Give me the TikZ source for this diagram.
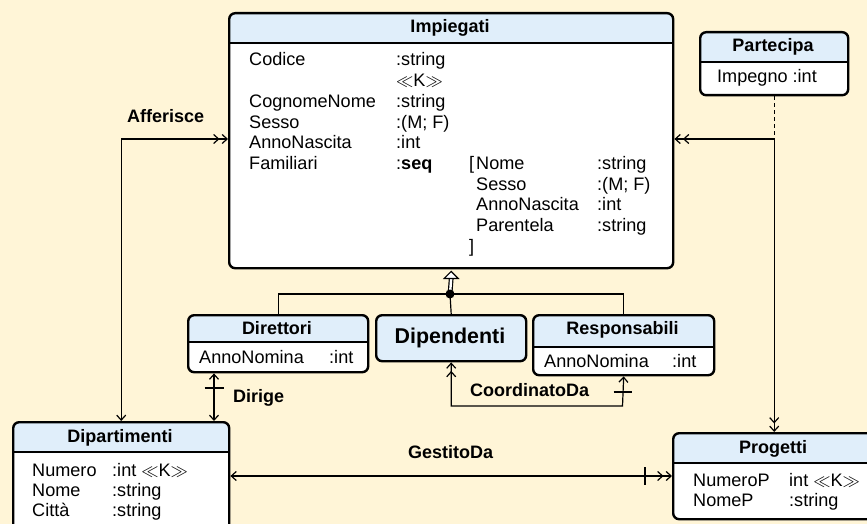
\documentclass[tikz,border=0pt]{standalone}
\usepackage{fontspec}
\setmainfont{Liberation Sans}
\usetikzlibrary{arrows.meta}
\definecolor{bg}{RGB}{255,245,215}
\definecolor{hdr}{RGB}{224,238,250}
\tikzset{
  sb/.tip={Straight Barb[length=5pt,width=9pt]},
  db/.tip={Straight Barb[length=5pt,width=9pt,sep=2pt]Straight Barb[length=5pt,width=9pt]},
  box/.style={draw, line width=2.4pt, rounded corners=6pt, fill=white, inner sep=0pt, anchor=north west},
  hd/.style={path picture={\fill[hdr] (path picture bounding box.north west) rectangle ([yshift=-#1pt]path picture bounding box.north east);}},
  sepline/.style={line width=2.4pt},
  conn/.style={line width=1.2pt, line join=miter},
  txt/.style={anchor=base west, inner sep=0pt, font=\fontsize{18.1}{20}\selectfont},
  ttl/.style={anchor=base, inner sep=0pt, font=\bfseries\fontsize{18}{20}\selectfont},
  lbl/.style={anchor=base west, inner sep=0pt, font=\bfseries\fontsize{18}{20}\selectfont},
  dot/.style={circle, fill=black, inner sep=0pt, minimum size=9pt},
}
\begin{document}
\begin{tikzpicture}[x=1pt,y=-1pt]
\useasboundingbox (0,0) rectangle (867,524);
\fill[bg] (0,0) rectangle (867,524);
\clip (0,0) rectangle (867,524);

% boxes
\node[box, hd=31, minimum width=444pt, minimum height=255pt] (imp) at (228,12) {};
\node[box, hd=31, minimum width=148pt, minimum height=63pt] (part) at (699,31) {};
\node[box, hd=28, minimum width=180pt, minimum height=57pt] (dir) at (187,314) {};
\node[box, fill=hdr, minimum width=150pt, minimum height=46pt] (dip) at (375,314) {};
\node[box, hd=33, minimum width=181pt, minimum height=60pt] (resp) at (532,314) {};
\node[box, hd=31, minimum width=216pt, minimum height=120pt] (dipart) at (12,421) {};
\node[box, hd=31, minimum width=202pt, minimum height=86pt] (prog) at (672,432) {};

% header separators
\draw[sepline] ([yshift=-31pt]imp.north west) -- ([yshift=-31pt]imp.north east);
\draw[sepline] ([yshift=-31pt]part.north west) -- ([yshift=-31pt]part.north east);
\draw[sepline] ([yshift=-28pt]dir.north west) -- ([yshift=-28pt]dir.north east);
\draw[sepline] ([yshift=-33pt]resp.north west) -- ([yshift=-33pt]resp.north east);
\draw[sepline] ([yshift=-31pt]dipart.north west) -- ([yshift=-31pt]dipart.north east);
\draw[sepline] ([yshift=-31pt]prog.north west) -- ([yshift=-31pt]prog.north east);

% titles
\node[ttl] (timp) at (450,33) {Impiegati};
\node[ttl] (tpart) at (773,52) {Partecipa};
\node[ttl] (tdir) at (277,334) {Direttori};
\node[ttl, font=\bfseries\fontsize{21.4}{24}\selectfont] (tdip) at (450,343) {Dipendenti};
\node[ttl] (tresp) at (622.5,334) {Responsabili};
\node[ttl] (tdipart) at (120,442) {Dipartimenti};
\node[ttl] (tprog) at (773,453) {Progetti};

% Impiegati attributes
\foreach \k/\t in {0/Codice, 2/CognomeNome, 3/Sesso, 4/AnnoNascita, 5/Familiari}
  \node[txt] (ia\k) at (249, 66+20.7*\k) {\t};
\foreach \k/\t in {0/{:string}, 1/{$\ll$K$\gg$}, 2/{:string}, 3/{:(M; F)}, 4/{:int}, 5/{:\textbf{seq}}}
  \node[txt] (ib\k) at (396, 66+20.7*\k) {\t};
\foreach \k/\t in {5/{[}, 9/{]}}
  \node[txt] (ic\k) at (469, 66+20.7*\k) {\t};
\foreach \k/\t in {5/Nome, 6/Sesso, 7/AnnoNascita, 8/Parentela}
  \node[txt] (id\k) at (476, 66+20.7*\k) {\t};
\foreach \k/\t in {5/{:string}, 6/{:(M; F)}, 7/{:int}, 8/{:string}}
  \node[txt] (ie\k) at (597, 66+20.7*\k) {\t};

% other attributes
\node[txt] (pa1) at (717,83) {Impegno :int};
\node[txt] (da1) at (199,363) {AnnoNomina};
\node[txt] (da2) at (329,363) {:int};
\node[txt] (ra1) at (544,367) {AnnoNomina};
\node[txt] (ra2) at (672,367) {:int};
\foreach \k/\a/\b in {0/Numero/{:int $\ll$K$\gg$}, 1/Nome/{:string}, 2/Città/{:string}}{
  \node[txt] (dpa\k) at (32, 476+20*\k) {\a};
  \node[txt] (dpb\k) at (112, 476+20*\k) {\b};
}
\foreach \k/\a/\b in {0/NumeroP/{int $\ll$K$\gg$}, 1/NomeP/{:string}}{
  \node[txt] (pga\k) at (693, 486+20*\k) {\a};
  \node[txt] (pgb\k) at (789, 486+20*\k) {\b};
}

% labels
\node[lbl] (lafi) at (127,123) {Afferisce};
\node[lbl] (ldir) at (233,402) {Dirige};
\node[lbl] (lcoo) at (470,396) {CoordinatoDa};
\node[lbl] (lges) at (408,458) {GestitoDa};

% helper coordinates
\coordinate (afy) at (0,139);
\coordinate (dgx) at (214,0);
\coordinate (dgb) at (214,388);
\coordinate (cdc) at (622.5,406);
\coordinate (cdb) at (622.5,392);
\coordinate (gdy) at (0,476);
\coordinate (gdb) at (645,476);
\coordinate (g) at (450,294);

% Afferisce
\draw[conn, {sb}-{db}] (dipart.north) |- (imp.west |- afy);
% Partecipa association
\draw[conn, {db}-{db}] (imp.east |- afy) -| (prog.north);
\draw[line width=1pt, dash pattern=on 4pt off 3pt] (part.south) -- (part.south |- afy);
% Dirige
\draw[conn, {sb}-{sb}] (dir.south -| dgx) -- (dipart.north -| dgx);
\draw[conn] ([xshift=-9.5pt]dgb) -- ([xshift=9.5pt]dgb);
% CoordinatoDa
\draw[conn, {db}-{sb}] (dip.south) |- (cdc) -- (resp.south);
\draw[conn] ([xshift=-9pt]cdb) -- ([xshift=9pt]cdb);
% GestitoDa
\draw[conn, {sb}-{db}] (dipart.east |- gdy) -- (prog.west |- gdy);
\draw[conn] ([yshift=9pt]gdb) -- ([yshift=-9pt]gdb);

% generalization
\draw[conn] (dir.north) |- (g) -| (resp.north);
\draw[conn] (g) -- (dip.north);
\draw[line width=1.2pt, double=white, double distance=2.4pt] (g) -- ([yshift=-9pt]imp.south);
\draw[line width=1.2pt, fill=white, line join=miter] ([yshift=-2pt]imp.south) -- ++(7,7) -- ++(-14,0) -- cycle;
\node[dot] (gdot) at (g) {};
\end{tikzpicture}
\end{document}
